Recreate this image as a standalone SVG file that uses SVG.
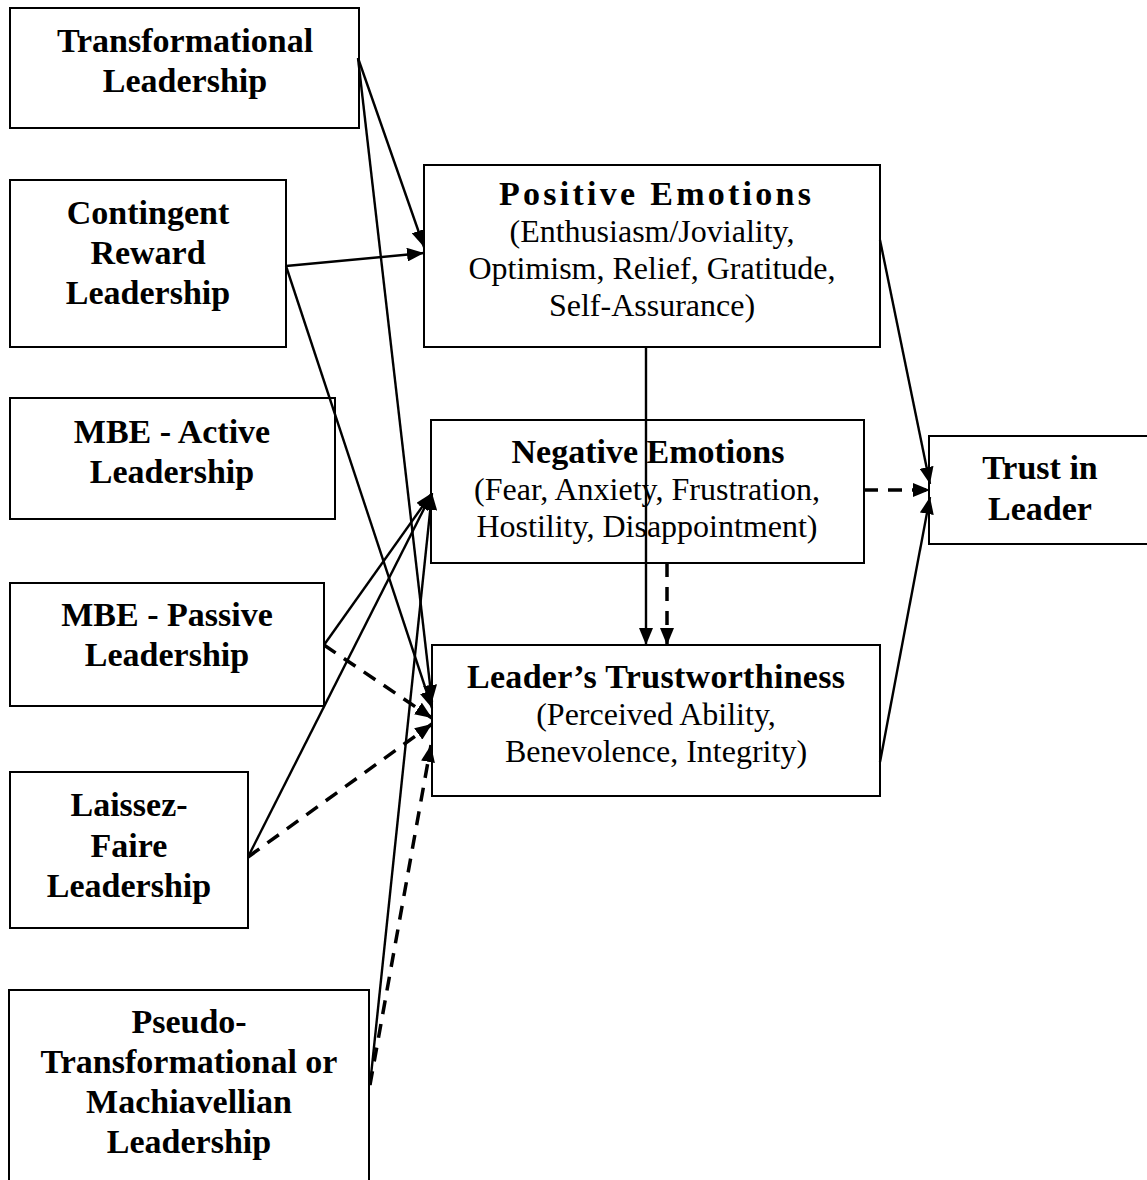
<svg xmlns="http://www.w3.org/2000/svg" width="1147" height="1180" viewBox="0 0 1147 1180">
  <style>
    .box { fill: #fff; stroke: #000; stroke-width: 2; }
    .t { font-family: "Liberation Serif", "Times New Roman", serif; text-anchor: middle; fill: #000; }
    .b { font-weight: bold; font-size: 34px; }
    .r { font-size: 32px; }
    .ln { fill: none; stroke: #000; stroke-width: 2.4; marker-end: url(#ah); }
    .dl { fill: none; stroke: #000; stroke-width: 3.5; stroke-dasharray: 14 10; marker-end: url(#ah); }
  </style>
  <defs>
    <marker id="ah" markerUnits="userSpaceOnUse" markerWidth="17" markerHeight="14" refX="17" refY="7" orient="auto">
      <path d="M0,0 L17,7 L0,14 z" fill="#000" stroke="none"/>
    </marker>
  </defs>
  <rect width="1147" height="1180" fill="#fff"/>

  <g id="transformational">
    <rect class="box" x="10" y="8" width="349" height="120"/>
    <text class="t b" x="185" y="52">Transformational</text>
    <text class="t b" x="185" y="92">Leadership</text>
  </g>
  <g id="contingent-reward">
    <rect class="box" x="10" y="180" width="276" height="167"/>
    <text class="t b" x="148" y="224">Contingent</text>
    <text class="t b" x="148" y="264">Reward</text>
    <text class="t b" x="148" y="304">Leadership</text>
  </g>
  <g id="mbe-active">
    <rect class="box" x="10" y="398" width="325" height="121"/>
    <text class="t b" x="172" y="443">MBE - Active</text>
    <text class="t b" x="172" y="483">Leadership</text>
  </g>
  <g id="mbe-passive">
    <rect class="box" x="10" y="583" width="314" height="123"/>
    <text class="t b" x="167" y="626">MBE - Passive</text>
    <text class="t b" x="167" y="666">Leadership</text>
  </g>
  <g id="laissez-faire">
    <rect class="box" x="10" y="772" width="238" height="156"/>
    <text class="t b" x="129" y="816">Laissez-</text>
    <text class="t b" x="129" y="857">Faire</text>
    <text class="t b" x="129" y="897">Leadership</text>
  </g>
  <g id="pseudo-transformational">
    <rect class="box" x="9" y="990" width="360" height="200"/>
    <text class="t b" x="189" y="1033">Pseudo-</text>
    <text class="t b" x="189" y="1073">Transformational or</text>
    <text class="t b" x="189" y="1113">Machiavellian</text>
    <text class="t b" x="189" y="1153">Leadership</text>
  </g>
  <g id="positive-emotions">
    <rect class="box" x="424" y="165" width="456" height="182"/>
    <text class="t b" x="655" y="205" textLength="312" lengthAdjust="spacing">Positive Emotions</text>
    <text class="t r" x="652" y="242">(Enthusiasm/Joviality,</text>
    <text class="t r" x="652" y="279">Optimism, Relief, Gratitude,</text>
    <text class="t r" x="652" y="316">Self-Assurance)</text>
  </g>
  <g id="negative-emotions">
    <rect class="box" x="431" y="420" width="433" height="143"/>
    <text class="t b" x="648" y="463">Negative Emotions</text>
    <text class="t r" x="647" y="500">(Fear, Anxiety, Frustration,</text>
    <text class="t r" x="647" y="537">Hostility, Disappointment)</text>
  </g>
  <g id="leader-trustworthiness">
    <rect class="box" x="432" y="645" width="448" height="151"/>
    <text class="t b" x="656" y="688" textLength="378" lengthAdjust="spacing">Leader’s Trustworthiness</text>
    <text class="t r" x="656" y="725">(Perceived Ability,</text>
    <text class="t r" x="656" y="762">Benevolence, Integrity)</text>
  </g>
  <g id="trust-in-leader">
    <rect class="box" x="929" y="436" width="230" height="108"/>
    <text class="t b" x="1040" y="479">Trust in</text>
    <text class="t b" x="1040" y="520">Leader</text>
  </g>

  <g id="connectors">
    <line class="ln" x1="358" y1="58" x2="424" y2="247"/>
    <line class="ln" x1="358" y1="58" x2="432" y2="702"/>
    <line class="ln" x1="286" y1="266" x2="424" y2="253"/>
    <line class="ln" x1="286" y1="266" x2="432" y2="708"/>
    <line class="ln" x1="324" y1="645" x2="432" y2="493"/>
    <line class="dl" x1="324" y1="645" x2="432" y2="718"/>
    <line class="ln" x1="248" y1="857" x2="432" y2="493"/>
    <line class="dl" x1="248" y1="857" x2="432" y2="724"/>
    <line class="ln" x1="370" y1="1085" x2="432" y2="493"/>
    <line class="dl" x1="370" y1="1085" x2="431" y2="745"/>
    <line class="ln" x1="646" y1="347" x2="646" y2="645"/>
    <line class="dl" x1="667" y1="563" x2="667" y2="645"/>
    <line class="ln" x1="880" y1="240" x2="930" y2="484"/>
    <line class="dl" x1="864" y1="490" x2="930" y2="490"/>
    <line class="ln" x1="880" y1="762" x2="930" y2="497"/>
  </g>
</svg>
